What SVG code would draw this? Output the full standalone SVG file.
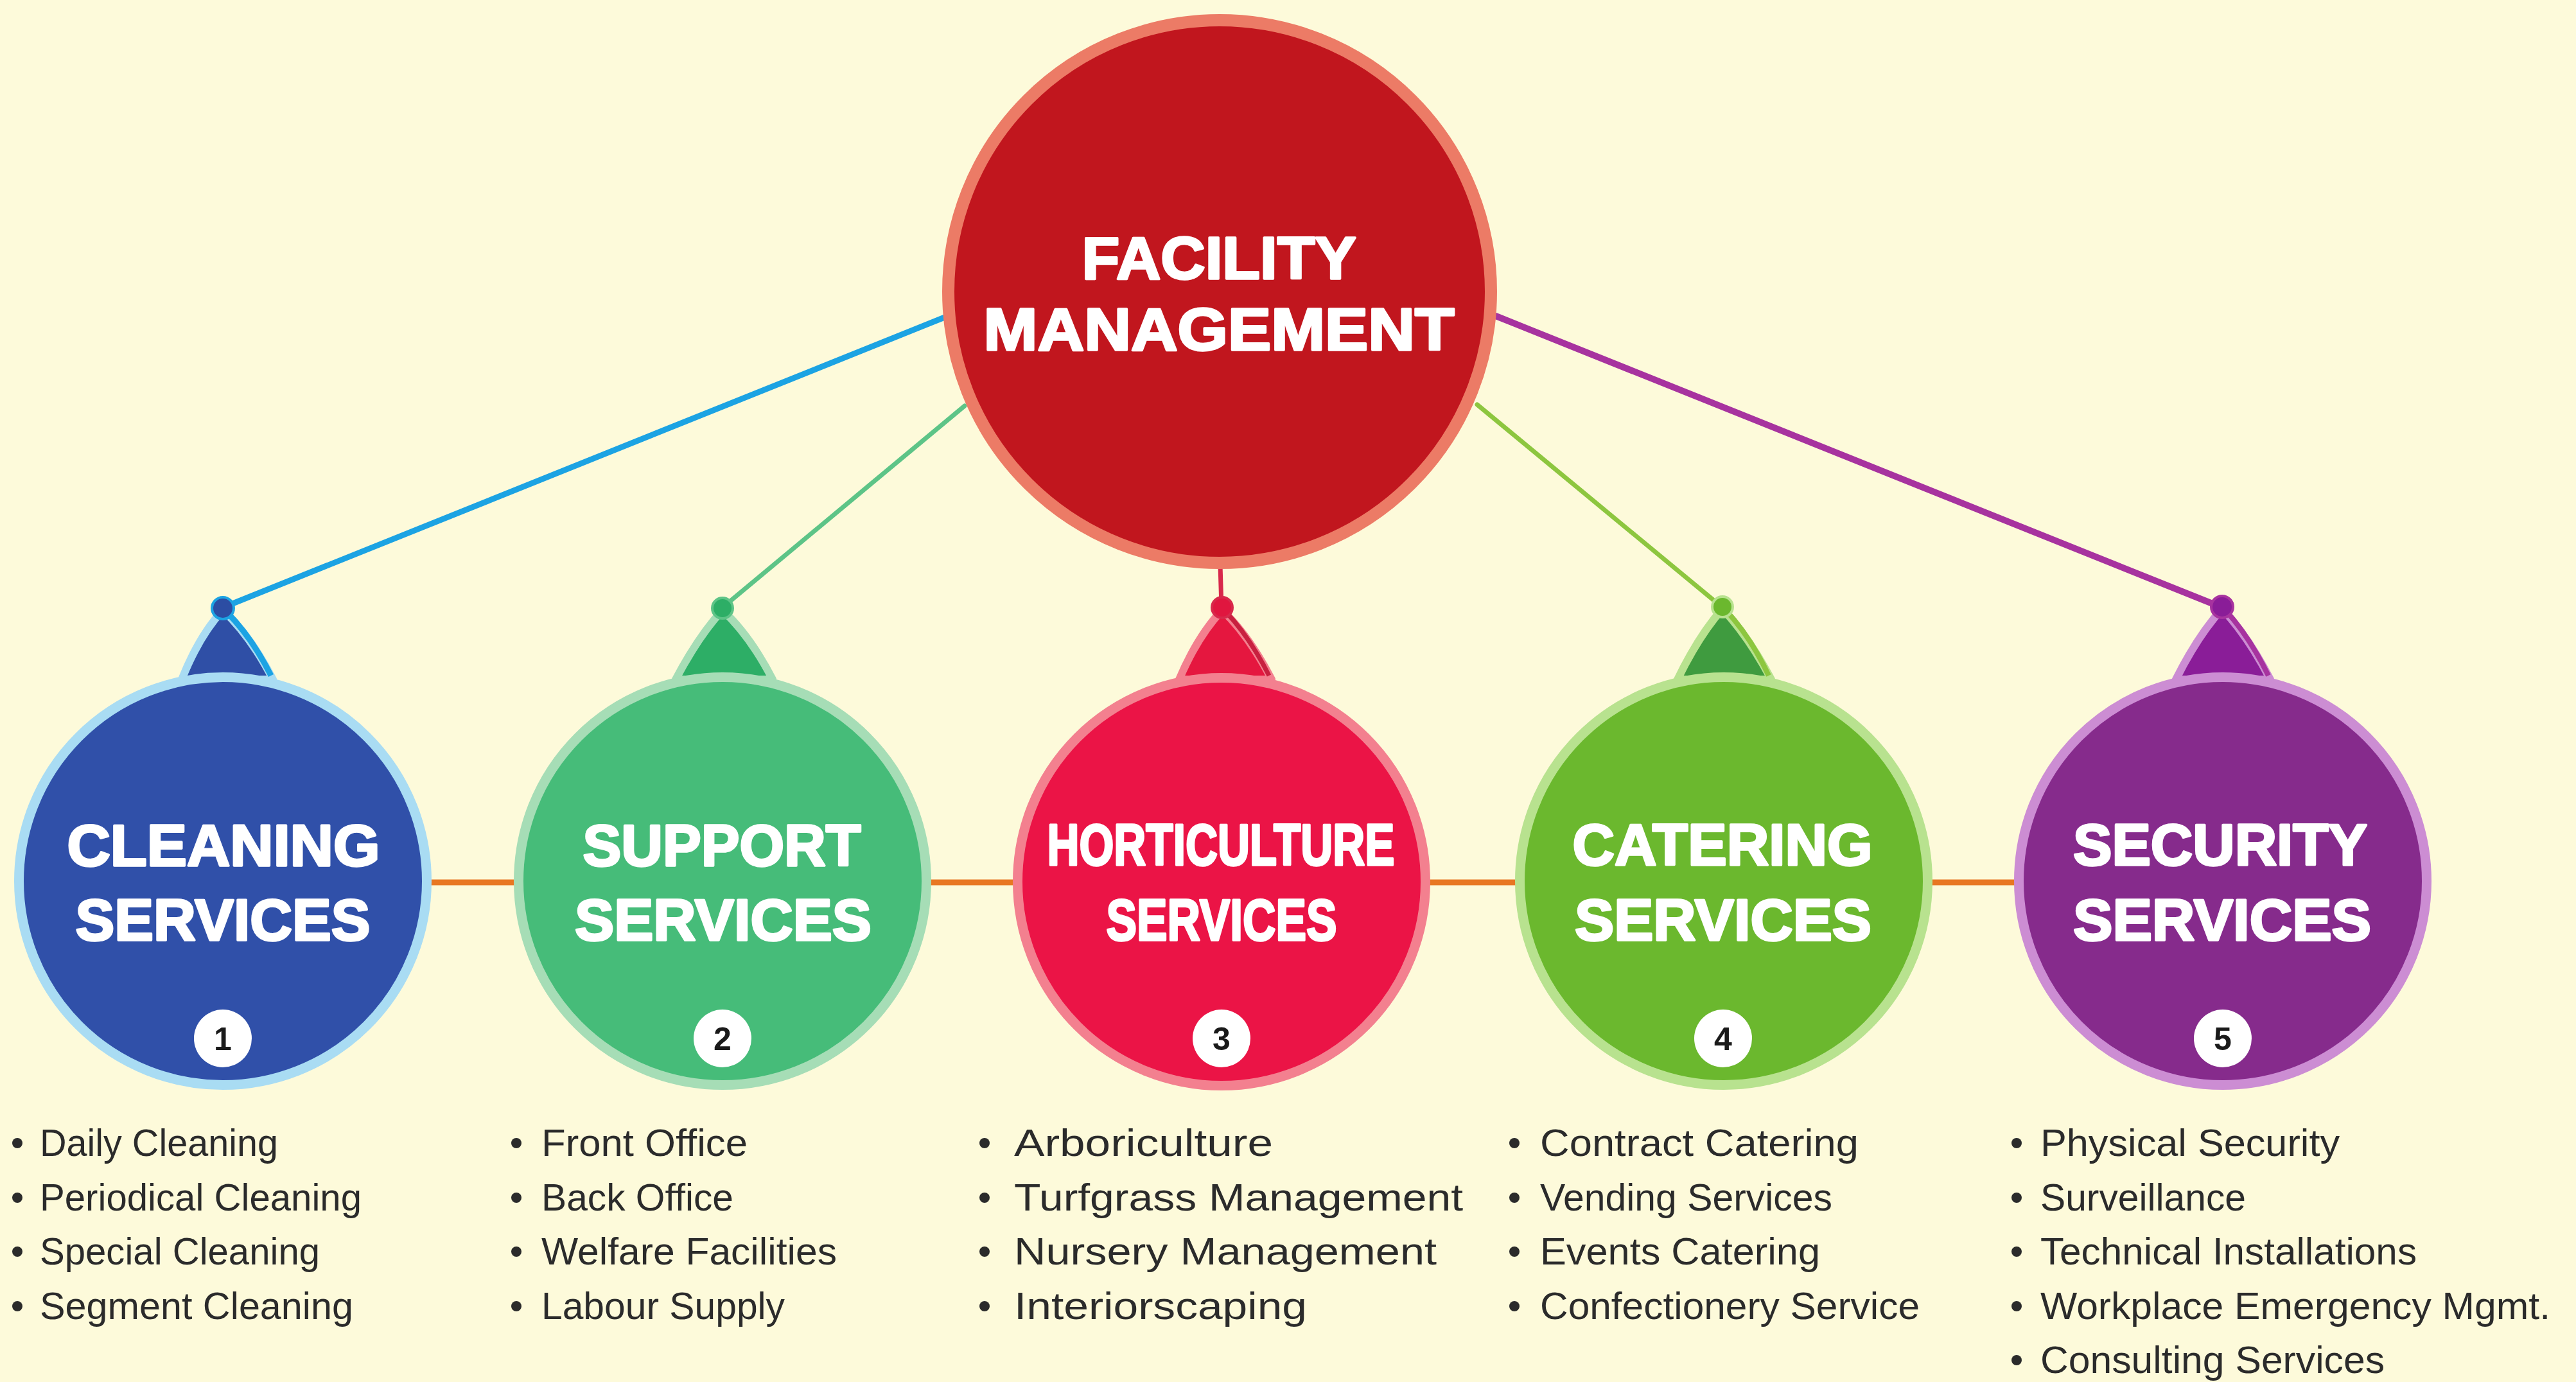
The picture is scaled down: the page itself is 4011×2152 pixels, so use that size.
<svg xmlns="http://www.w3.org/2000/svg" width="4011" height="2152" viewBox="0 0 4011 2152">
<style>
.bg{fill:#FDFADA}
.conn{fill:none;stroke-linecap:round}
.link{stroke:#E87722;stroke-width:9}
.ttl{font-family:"Liberation Sans",Arial,sans-serif;font-weight:bold;fill:#FFFFFF;stroke:#FFFFFF;stroke-width:3.5;stroke-linejoin:round;text-anchor:middle}
.node-t{font-size:90px}
.main-t{font-size:93px}
.num{font-family:"Liberation Sans",Arial,sans-serif;font-weight:bold;font-size:50px;fill:#1a1a1a;text-anchor:middle}
.numc{fill:#FFFFFF}
.li{font-family:"Liberation Sans",Arial,sans-serif;font-size:60px;fill:#2b2b2b}
.bul{fill:#2b2b2b}
</style>
<rect class="bg" x="0" y="0" width="4011" height="2152"/>

<g id="connectors">
  <line class="conn" x1="347" y1="946" x2="1471" y2="494" stroke="#1CA3E3" stroke-width="9"/>
  <line class="conn" x1="1125" y1="946" x2="1502" y2="632" stroke="#5DC487" stroke-width="7"/>
  <line class="conn" x1="1902" y1="946" x2="1900" y2="880" stroke="#D8284B" stroke-width="7"/>
  <line class="conn" x1="2682" y1="946" x2="2300" y2="630" stroke="#8DC63F" stroke-width="7"/>
  <line class="conn" x1="3460" y1="946" x2="2329" y2="492" stroke="#A7339F" stroke-width="10"/>
  <line class="conn link" x1="660" y1="1374" x2="812" y2="1374"/>
  <line class="conn link" x1="1438" y1="1374" x2="1589" y2="1374"/>
  <line class="conn link" x1="2215" y1="1374" x2="2371" y2="1374"/>
  <line class="conn link" x1="2997" y1="1374" x2="3148" y2="1374"/>
</g>

<g id="facility-management">
  <circle cx="1899" cy="454" r="422.5" fill="#C1161E" stroke="#EC7B66" stroke-width="19"/>
  <text class="ttl main-t" x="1898" y="434" textLength="427" lengthAdjust="spacingAndGlyphs">FACILITY</text>
  <text class="ttl main-t" x="1898" y="545" textLength="733" lengthAdjust="spacingAndGlyphs">MANAGEMENT</text>
</g>

<g id="cleaning-services">
  <path d="M347,950 Q310,990 283,1058 L425,1058 Q390,990 347,950 Z" fill="#2F4FA6" stroke="#A9DCF3" stroke-width="12" stroke-linejoin="round"/>
  <path d="M352,952 Q392,992 422,1052" fill="none" stroke="#1CA3E3" stroke-width="9"/>
  <circle cx="347" cy="1372" r="317.5" fill="#3050A9" stroke="#A9DCF3" stroke-width="15"/>
  <circle cx="347" cy="947" r="17" fill="#2C4DA3" stroke="#1CA3E3" stroke-width="4"/>
  <text class="ttl node-t" x="348" y="1348" textLength="487" lengthAdjust="spacingAndGlyphs">CLEANING</text>
  <text class="ttl node-t" x="347" y="1464" textLength="459" lengthAdjust="spacingAndGlyphs">SERVICES</text>
  <circle class="numc" cx="347" cy="1617" r="45"/>
  <text class="num" x="347" y="1635">1</text>
</g>

<g id="support-services">
  <path d="M1125,950 Q1088,990 1052,1058 L1203,1058 Q1168,990 1125,950 Z" fill="#2DAE66" stroke="#A6DDB6" stroke-width="12" stroke-linejoin="round"/>
  <circle cx="1125" cy="1372" r="317.5" fill="#46BC79" stroke="#A6DDB6" stroke-width="15"/>
  <circle cx="1125" cy="947" r="16" fill="#2DAE66" stroke="#5DC487" stroke-width="4"/>
  <text class="ttl node-t" x="1124" y="1348" textLength="433" lengthAdjust="spacingAndGlyphs">SUPPORT</text>
  <text class="ttl node-t" x="1126" y="1464" textLength="462" lengthAdjust="spacingAndGlyphs">SERVICES</text>
  <circle class="numc" cx="1125" cy="1617" r="45"/>
  <text class="num" x="1125" y="1635">2</text>
</g>

<g id="horticulture-services">
  <path d="M1903,950 Q1865,990 1836,1058 L1980,1058 Q1945,990 1903,950 Z" fill="#E5173F" stroke="#F3808F" stroke-width="12" stroke-linejoin="round"/>
  <path d="M1908,952 Q1946,992 1976,1052" fill="none" stroke="#C8203F" stroke-width="7"/>
  <circle cx="1902" cy="1373" r="317.5" fill="#EB1446" stroke="#F3808F" stroke-width="15"/>
  <circle cx="1903" cy="946" r="16" fill="#E0163F" stroke="#D8284B" stroke-width="4"/>
  <text class="ttl node-t" x="1901" y="1347" textLength="541" lengthAdjust="spacingAndGlyphs">HORTICULTURE</text>
  <text class="ttl node-t" x="1902" y="1464" textLength="359" lengthAdjust="spacingAndGlyphs">SERVICES</text>
  <circle class="numc" cx="1902" cy="1617" r="45"/>
  <text class="num" x="1902" y="1635">3</text>
</g>

<g id="catering-services">
  <path d="M2682,948 Q2645,990 2612,1058 L2758,1058 Q2722,990 2682,948 Z" fill="#3F9B3F" stroke="#B8E28F" stroke-width="12" stroke-linejoin="round"/>
  <path d="M2687,950 Q2726,992 2754,1052" fill="none" stroke="#8DC63F" stroke-width="8"/>
  <circle cx="2684" cy="1372" r="317.5" fill="#6BB82E" stroke="#B8E28F" stroke-width="15"/>
  <circle cx="2682" cy="945" r="16" fill="#6BB82E" stroke="#B8E28F" stroke-width="4"/>
  <text class="ttl node-t" x="2682" y="1347" textLength="467" lengthAdjust="spacingAndGlyphs">CATERING</text>
  <text class="ttl node-t" x="2683" y="1464" textLength="462" lengthAdjust="spacingAndGlyphs">SERVICES</text>
  <circle class="numc" cx="2683" cy="1617" r="45"/>
  <text class="num" x="2683" y="1635">4</text>
</g>

<g id="security-services">
  <path d="M3460,948 Q3422,990 3388,1058 L3535,1058 Q3500,990 3460,948 Z" fill="#8A1D98" stroke="#CC8DD3" stroke-width="12" stroke-linejoin="round"/>
  <path d="M3465,950 Q3503,992 3532,1052" fill="none" stroke="#A7339F" stroke-width="8"/>
  <circle cx="3461" cy="1372" r="317.5" fill="#862B8C" stroke="#CC8DD3" stroke-width="15"/>
  <circle cx="3460" cy="945" r="17" fill="#8A1D98" stroke="#A7339F" stroke-width="4"/>
  <text class="ttl node-t" x="3457" y="1347" textLength="458" lengthAdjust="spacingAndGlyphs">SECURITY</text>
  <text class="ttl node-t" x="3460" y="1464" textLength="464" lengthAdjust="spacingAndGlyphs">SERVICES</text>
  <circle class="numc" cx="3461" cy="1617" r="45"/>
  <text class="num" x="3461" y="1635">5</text>
</g>

<g id="list-cleaning">
  <circle class="bul" cx="27" cy="1780" r="8"/><text class="li" x="62" y="1800" textLength="371" lengthAdjust="spacingAndGlyphs">Daily Cleaning</text>
  <circle class="bul" cx="27" cy="1865" r="8"/><text class="li" x="62" y="1885" textLength="501" lengthAdjust="spacingAndGlyphs">Periodical Cleaning</text>
  <circle class="bul" cx="27" cy="1949" r="8"/><text class="li" x="62" y="1969" textLength="436" lengthAdjust="spacingAndGlyphs">Special Cleaning</text>
  <circle class="bul" cx="27" cy="2034" r="8"/><text class="li" x="62" y="2054" textLength="488" lengthAdjust="spacingAndGlyphs">Segment Cleaning</text>
</g>
<g id="list-support">
  <circle class="bul" cx="804" cy="1780" r="8"/><text class="li" x="843" y="1800" textLength="321" lengthAdjust="spacingAndGlyphs">Front Office</text>
  <circle class="bul" cx="804" cy="1865" r="8"/><text class="li" x="843" y="1885" textLength="299" lengthAdjust="spacingAndGlyphs">Back Office</text>
  <circle class="bul" cx="804" cy="1949" r="8"/><text class="li" x="843" y="1969" textLength="460" lengthAdjust="spacingAndGlyphs">Welfare Facilities</text>
  <circle class="bul" cx="804" cy="2034" r="8"/><text class="li" x="843" y="2054" textLength="379" lengthAdjust="spacingAndGlyphs">Labour Supply</text>
</g>
<g id="list-horticulture">
  <circle class="bul" cx="1533" cy="1780" r="8"/><text class="li" x="1579" y="1800" textLength="403" lengthAdjust="spacingAndGlyphs">Arboriculture</text>
  <circle class="bul" cx="1533" cy="1865" r="8"/><text class="li" x="1579" y="1885" textLength="699" lengthAdjust="spacingAndGlyphs">Turfgrass Management</text>
  <circle class="bul" cx="1533" cy="1949" r="8"/><text class="li" x="1579" y="1969" textLength="658" lengthAdjust="spacingAndGlyphs">Nursery Management</text>
  <circle class="bul" cx="1533" cy="2034" r="8"/><text class="li" x="1579" y="2054" textLength="456" lengthAdjust="spacingAndGlyphs">Interiorscaping</text>
</g>
<g id="list-catering">
  <circle class="bul" cx="2358" cy="1780" r="8"/><text class="li" x="2398" y="1800" textLength="496" lengthAdjust="spacingAndGlyphs">Contract Catering</text>
  <circle class="bul" cx="2358" cy="1865" r="8"/><text class="li" x="2398" y="1885" textLength="455" lengthAdjust="spacingAndGlyphs">Vending Services</text>
  <circle class="bul" cx="2358" cy="1949" r="8"/><text class="li" x="2398" y="1969" textLength="436" lengthAdjust="spacingAndGlyphs">Events Catering</text>
  <circle class="bul" cx="2358" cy="2034" r="8"/><text class="li" x="2398" y="2054" textLength="591" lengthAdjust="spacingAndGlyphs">Confectionery Service</text>
</g>
<g id="list-security">
  <circle class="bul" cx="3140" cy="1780" r="8"/><text class="li" x="3177" y="1800" textLength="466" lengthAdjust="spacingAndGlyphs">Physical Security</text>
  <circle class="bul" cx="3140" cy="1865" r="8"/><text class="li" x="3177" y="1885" textLength="320" lengthAdjust="spacingAndGlyphs">Surveillance</text>
  <circle class="bul" cx="3140" cy="1949" r="8"/><text class="li" x="3177" y="1969" textLength="586" lengthAdjust="spacingAndGlyphs">Technical Installations</text>
  <circle class="bul" cx="3140" cy="2034" r="8"/><text class="li" x="3177" y="2054" textLength="794" lengthAdjust="spacingAndGlyphs">Workplace Emergency Mgmt.</text>
  <circle class="bul" cx="3140" cy="2118" r="8"/><text class="li" x="3177" y="2138" textLength="536" lengthAdjust="spacingAndGlyphs">Consulting Services</text>
</g>
</svg>
